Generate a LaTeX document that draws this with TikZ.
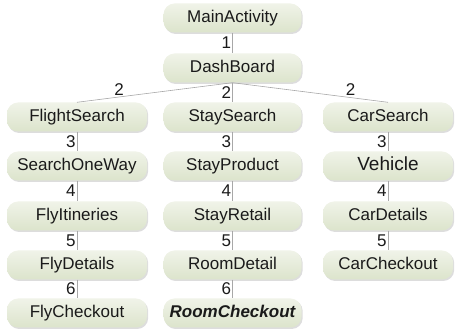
\documentclass[tikz,border=0pt]{standalone}
\usepackage{fontspec}
\setmainfont{Liberation Sans}
\usetikzlibrary{shadows}
\definecolor{boxtop}{HTML}{F0F3E8}
\definecolor{boxbot}{HTML}{DCE4CC}
\definecolor{linec}{HTML}{A8A8A8}
\definecolor{txt}{HTML}{1A1A1A}
\begin{document}
\begin{tikzpicture}[x=1pt,y=1pt,
  act/.style={rounded corners=11pt, minimum width=140pt, minimum height=29pt,
    top color=boxtop, bottom color=boxbot, draw=none, text=txt, inner sep=0pt,
    font=\fontsize{17}{17}\selectfont, text height=12.5pt, text depth=3.5pt,
    drop shadow={shadow xshift=1.2pt, shadow yshift=-1.5pt, opacity=0.22, fill=black!60}},
  midcol/.style={minimum width=138pt},
  rightcol/.style={minimum width=130pt},
  conn/.style={draw=linec, line width=0.6pt},
  num/.style={font=\fontsize{17}{17}\selectfont, text=txt, inner sep=1pt, anchor=east},
  numtop/.style={font=\fontsize{17}{17}\selectfont, text=txt, inner sep=1.5pt, anchor=south}]
\useasboundingbox (0,0) rectangle (458,331);
% rows
\node[act, midcol] (main) at (232.5,313) {MainActivity};
\node[act, midcol] (dash) at (232.5,263) {DashBoard};
\node[act] (fs)  at (77,214) {FlightSearch};
\node[act] (sow) at (77,165) {SearchOneWay};
\node[act] (fi)  at (77,115) {FlyItineries};
\node[act] (fd)  at (77,66)  {FlyDetails};
\node[act] (fc)  at (77,18)  {FlyCheckout};
\node[act, midcol] (ss) at (232.5,214) {StaySearch};
\node[act, midcol] (sp) at (232.5,165) {StayProduct};
\node[act, midcol] (sr) at (232.5,115) {StayRetail};
\node[act, midcol] (rd) at (232.5,66)  {RoomDetail};
\node[act, midcol] (rc) at (232.5,18)  {\bfseries\itshape RoomCheckout};
\node[act, rightcol] (cs) at (388,214) {CarSearch};
\node[act, rightcol, font=\fontsize{19}{19}\selectfont] (veh) at (388,165) {Vehicle};
\node[act, rightcol] (cd) at (388,115) {CarDetails};
\node[act, rightcol] (cc) at (388,66)  {CarCheckout};
% connectors
\draw[conn] (main.south) -- node[num] (l1) {1} (dash.north);
\draw[conn] (dash.south) -- node[num] (l2m) {2} (ss.north);
\draw[conn] (dash.south) -- node[numtop, pos=0.73] (l2l) {2} (fs.north);
\draw[conn] (dash.south) -- node[numtop, pos=0.76] (l2r) {2} (cs.north);
\draw[conn] (fs.south) -- node[num] (a3) {3} (sow.north);
\draw[conn] (sow.south) -- node[num] (a4) {4} (fi.north);
\draw[conn] (fi.south) -- node[num] (a5) {5} (fd.north);
\draw[conn] (fd.south) -- node[num] (a6) {6} (fc.north);
\draw[conn] (ss.south) -- node[num] (b3) {3} (sp.north);
\draw[conn] (sp.south) -- node[num] (b4) {4} (sr.north);
\draw[conn] (sr.south) -- node[num] (b5) {5} (rd.north);
\draw[conn] (rd.south) -- node[num] (b6) {6} (rc.north);
\draw[conn] (cs.south) -- node[num] (c3) {3} (veh.north);
\draw[conn] (veh.south) -- node[num] (c4) {4} (cd.north);
\draw[conn] (cd.south) -- node[num] (c5) {5} (cc.north);
\end{tikzpicture}
\end{document}
